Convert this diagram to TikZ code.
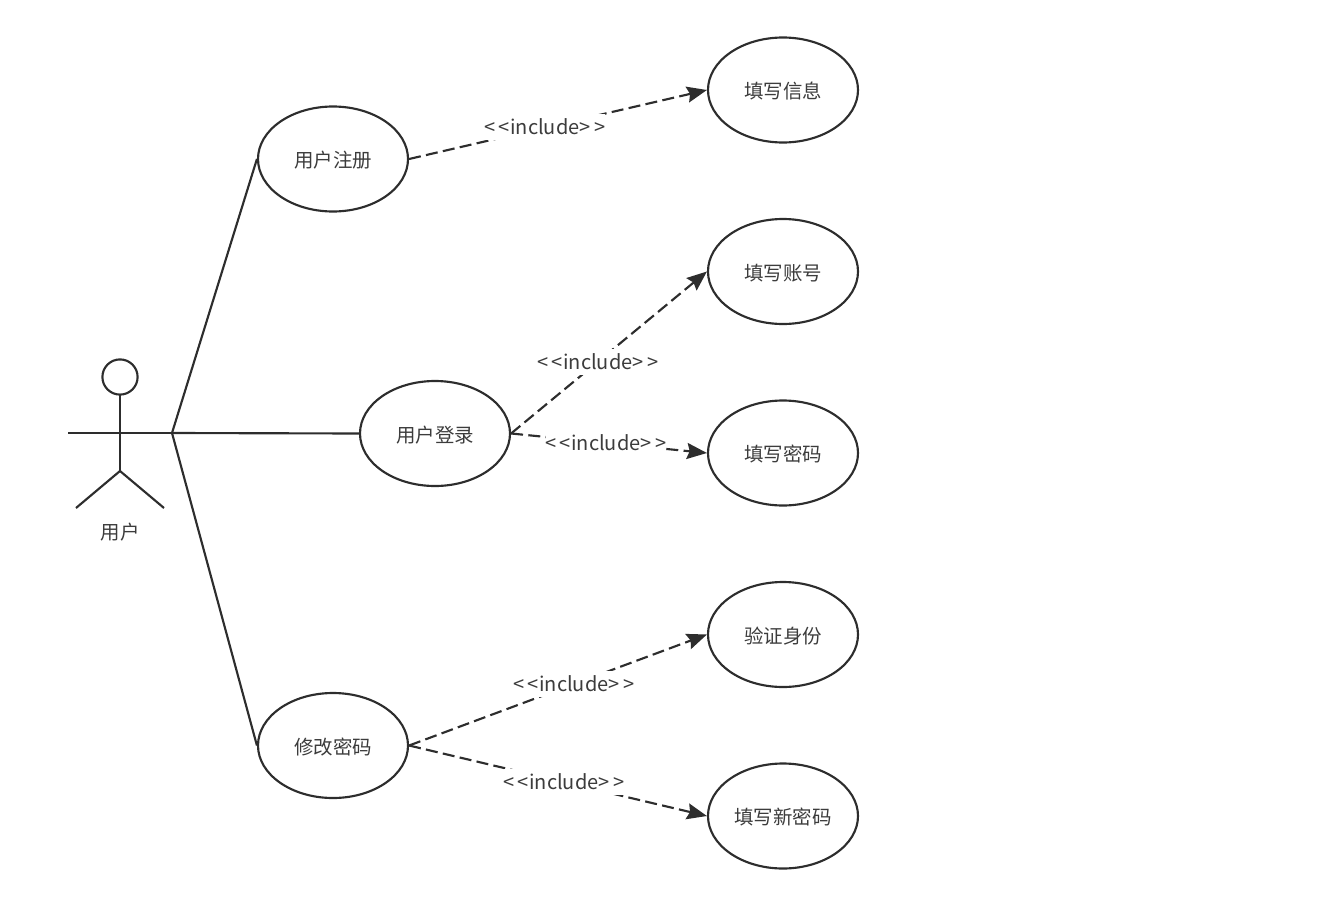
\documentclass[tikz,border=0pt]{standalone}
\usepackage{fontspec}
\setmainfont{Noto Sans CJK SC}
\usetikzlibrary{arrows.meta, shapes.geometric}
\definecolor{inkgray}{RGB}{45, 45, 45}
\definecolor{textgray}{RGB}{60, 60, 60}
\newcommand{\includetext}{{<}\hspace{2.2pt}{<}\hspace{0.3pt}include\hspace{0.3pt}{>}\hspace{2.2pt}{>}}

\begin{document}
\begin{tikzpicture}[
    x=0.75pt, y=-0.75pt,
    line width=1.6pt,
    every node/.style={font=\fontsize{14.6pt}{17pt}\selectfont, text=textgray},
    usecase/.style={draw=inkgray, ellipse, minimum width=112.5pt, minimum height=78.75pt, inner sep=0pt, text height=14.5pt},
    solidlink/.style={draw=inkgray},
    includelink/.style={draw=inkgray, dash pattern=on 9pt off 4pt, -{Stealth[length=15pt, width=12pt, inset=2pt]}},
    includetag/.style={fill=white, inner sep=0pt, minimum height=20pt, font=\fontsize{15pt}{17pt}\selectfont},
]
  \useasboundingbox (0,0) rectangle (1324,906);

  % Actor
  \draw[inkgray] (120,377) circle (13.2pt);
  \draw[inkgray] (120,395) -- (120,471);
  \draw[inkgray] (68,433) -- (172,433);
  \draw[inkgray] (76,508) -- (120,471) -- (164,508);
  \coordinate (hand) at (172,433);
  \node (actorname) at (120,532) {用户};

  % Main use cases
  \node[usecase] (register) at (333,159) {用户注册};
  \node[usecase] (login) at (435,433.5) {用户登录};
  \node[usecase] (changepw) at (333,745.5) {修改密码};

  % Included use cases
  \node[usecase] (fillinfo) at (783,90) {填写信息};
  \node[usecase] (fillacct) at (783,271.5) {填写账号};
  \node[usecase] (fillpw) at (783,453) {填写密码};
  \node[usecase] (verify) at (783,634.5) {验证身份};
  \node[usecase] (fillnewpw) at (783,816) {填写新密码};

  % Actor links
  \draw[solidlink] (hand) -- (register.west);
  \draw[solidlink] (hand) -- (login.west);
  \draw[solidlink] (hand) -- (changepw.west);

  % Include links
  \draw[includelink] (register.east) -- (fillinfo.west);
  \draw[includelink] (login.east) -- (fillacct.west);
  \draw[includelink] (login.east) -- (fillpw.west);
  \draw[includelink] (changepw.east) -- (verify.west);
  \draw[includelink] (changepw.east) -- (fillnewpw.west);

  % Include labels
  \node[includetag] (taginfo) at (545,127) {\includetext};
  \node[includetag] (tagacct) at (598,362) {\includetext};
  \node[includetag] (tagpw) at (606,443) {\includetext};
  \node[includetag] (tagverify) at (574,684) {\includetext};
  \node[includetag] (tagnewpw) at (564,782) {\includetext};
\end{tikzpicture}
\end{document}
